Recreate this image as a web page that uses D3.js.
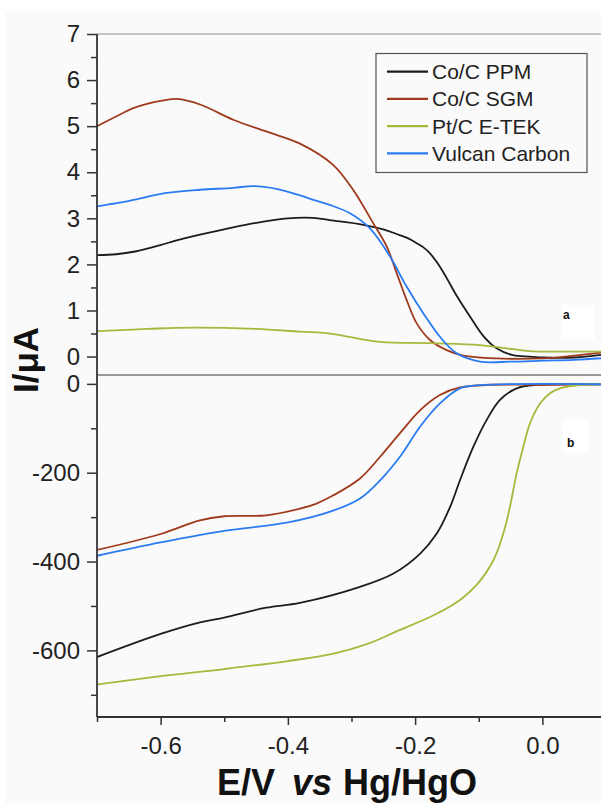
<!DOCTYPE html>
<html>
<head>
<meta charset="utf-8">
<script src="https://cdn.jsdelivr.net/npm/d3@7"></script>
<style>
  body { margin: 0; background: #fff; }
  svg { display: block; font-family: "Liberation Sans", Arial, sans-serif; }
</style>
</head>
<body>
<div id="chart"></div>
<script>
// series names + colours
const names = ['Co/C PPM', 'Co/C SGM', 'Pt/C E-TEK', 'Vulcan Carbon']
const colors = ['#1c1c1c', '#a03a1c', '#a7b83c', '#2b7cf2']

// panel a (top), I in uA
const topPPM_E = [-0.70, -0.67, -0.64, -0.60, -0.575, -0.54, -0.50, -0.45, -0.40, -0.36, -0.334, -0.2815, -0.25, -0.229, -0.21, -0.1975, -0.187, -0.1766, -0.166, -0.1557, -0.145, -0.1347, -0.1138, -0.093, -0.072, -0.046, -0.02, 0.00, 0.05, 0.10]
const topPPM_I = [2.20, 2.22, 2.28, 2.42, 2.52, 2.64, 2.76, 2.90, 3.00, 3.01, 2.96, 2.86, 2.76, 2.66, 2.56, 2.46, 2.37, 2.24, 2.05, 1.83, 1.57, 1.32, 0.87, 0.45, 0.18, 0.03, 0.00, -0.02, -0.02, 0.05]

const topSGM_E = [-0.70, -0.67, -0.643, -0.617, -0.595, -0.575, -0.538, -0.486, -0.433, -0.381, -0.329, -0.297, -0.2657, -0.2447, -0.229, -0.2134, -0.1975, -0.1766, -0.1505, -0.1243, -0.072, 0.00, 0.05, 0.10]
const topSGM_I = [5.00, 5.21, 5.39, 5.50, 5.56, 5.59, 5.47, 5.14, 4.88, 4.62, 4.16, 3.61, 2.89, 2.39, 1.81, 1.23, 0.72, 0.36, 0.14, 0.02, -0.04, -0.04, 0.02, 0.10]

const topPt_E = [-0.70, -0.62, -0.55, -0.45, -0.381, -0.334, -0.255, -0.177, -0.098, -0.046, -0.02, 0.10]
const topPt_I = [0.55, 0.60, 0.63, 0.60, 0.54, 0.50, 0.32, 0.29, 0.25, 0.16, 0.12, 0.11]

const topVC_E = [-0.70, -0.669, -0.643, -0.591, -0.538, -0.486, -0.455, -0.418, -0.381, -0.36, -0.334, -0.3024, -0.271, -0.2395, -0.2134, -0.1872, -0.161, -0.1347, -0.098, -0.05, 0.00, 0.05, 0.10]
const topVC_I = [3.26, 3.33, 3.40, 3.55, 3.62, 3.66, 3.70, 3.64, 3.50, 3.40, 3.29, 3.11, 2.78, 2.17, 1.52, 0.94, 0.43, 0.07, -0.11, -0.11, -0.09, -0.07, -0.03]

// panel b (bottom)
const botPPM_E = [-0.70, -0.60, -0.538, -0.50, -0.434, -0.381, -0.2866, -0.234, -0.192, -0.166, -0.145, -0.1295, -0.1086, -0.0875, -0.0666, -0.0404, -0.009, 0.05, 0.10]
const botPPM_I = [-615, -563, -537, -526, -504, -493, -457, -427, -382, -337, -277, -217, -142, -81, -36, -10, -2, -1, -1]

const botSGM_E = [-0.70, -0.60, -0.54, -0.50, -0.434, -0.381, -0.356, -0.33, -0.2866, -0.255, -0.2238, -0.192, -0.161, -0.1295, -0.08, 0.00, 0.10]
const botSGM_I = [-374, -338, -308, -298, -296, -281, -270, -252, -213, -164, -111, -59, -25, -8, -2, -2, -1]

const botPt_E = [-0.70, -0.60, -0.50, -0.40, -0.33, -0.276, -0.224, -0.171, -0.13, -0.103, -0.077, -0.0614, -0.051, -0.0404, -0.03, -0.0195, -0.0037, 0.012, 0.0277, 0.063, 0.10]
const botPt_I = [-677, -658, -642, -624, -608, -586, -554, -521, -487, -452, -397, -337, -277, -201, -142, -89, -44, -21, -10, -2, -1]

const botVC_E = [-0.70, -0.60, -0.50, -0.40, -0.33, -0.2866, -0.255, -0.2238, -0.192, -0.161, -0.1295, -0.10, 0.10]
const botVC_I = [-387, -357, -331, -312, -286, -258, -217, -164, -96, -44, -10, -3, -1]

const xTicks = [-0.6, -0.4, -0.2, 0.0]
const xMinor = [-0.7, -0.5, -0.3, -0.1]
const topTicks = [0, 1, 2, 3, 4, 5, 6, 7]
const topMinor = [0.5, 1.5, 2.5, 3.5, 4.5, 5.5, 6.5]
const botTicks = [0, -200, -400, -600]
const botMinor = [-100, -300, -500, -700]

function zip(es, is) {
  return es.map((e, i) => ({ e: e, i: is[i] }))
}
const topSeries = [zip(topPPM_E, topPPM_I), zip(topSGM_E, topSGM_I), zip(topPt_E, topPt_I), zip(topVC_E, topVC_I)]
const botSeries = [zip(botPPM_E, botPPM_I), zip(botSGM_E, botSGM_I), zip(botPt_E, botPt_I), zip(botVC_E, botVC_I)]

const width = 601
const height = 803
const plotLeft = 97, plotRight = 606
const plotTop = 34, plotMid = 375, plotBottom = 717

const svg = d3.select('#chart').append('svg')
  .attr('width', width)
  .attr('height', height)

svg.append('rect')
  .attr('x', 5).attr('y', 11)
  .attr('width', width).attr('height', height)
  .attr('fill', '#fafafa')

const x = d3.scaleLinear().domain([-0.7, 0.1]).range([plotLeft, plotRight])
const yTop = d3.scaleLinear().domain([-0.4, 7]).range([plotMid, plotTop])
const yBot = d3.scaleLinear().domain([-750, 20]).range([plotBottom, plotMid])

svg.append('clipPath').attr('id', 'clipTop')
  .append('rect').attr('x', plotLeft).attr('y', plotTop).attr('width', plotRight - plotLeft).attr('height', plotMid - plotTop)
svg.append('clipPath').attr('id', 'clipBot')
  .append('rect').attr('x', plotLeft).attr('y', plotMid).attr('width', plotRight - plotLeft).attr('height', plotBottom - plotMid)

// frame lines (grey)
svg.append('line')
  .attr('x1', plotLeft).attr('x2', width).attr('y1', plotTop).attr('y2', plotTop)
  .attr('stroke', '#8a8a8a').attr('stroke-width', 1.2)
svg.append('line')
  .attr('x1', plotLeft).attr('x2', width).attr('y1', plotMid).attr('y2', plotMid)
  .attr('stroke', '#777').attr('stroke-width', 1.5)

// curves
const lineTop = d3.line().x(d => x(d.e)).y(d => yTop(d.i)).curve(d3.curveCatmullRom.alpha(0.5))
const lineBot = d3.line().x(d => x(d.e)).y(d => yBot(d.i)).curve(d3.curveCatmullRom.alpha(0.5))

svg.append('g').attr('clip-path', 'url(#clipTop)')
  .selectAll('path')
  .data(topSeries)
  .enter().append('path')
  .attr('d', lineTop)
  .attr('fill', 'none')
  .attr('stroke', (d, i) => colors[i])
  .attr('stroke-width', 1.8)

svg.append('g').attr('clip-path', 'url(#clipBot)')
  .selectAll('path')
  .data(botSeries)
  .enter().append('path')
  .attr('d', lineBot)
  .attr('fill', 'none')
  .attr('stroke', (d, i) => colors[i])
  .attr('stroke-width', 1.8)

// axes
function styleAxis(g) {
  g.selectAll('path.domain').remove()
  g.selectAll('line').attr('stroke', '#333').attr('stroke-width', 1.5)
  g.selectAll('text')
    .attr('fill', '#222')
    .style('font-size', '24px')
    .style('font-family', '"Liberation Sans", Arial, sans-serif')
}

svg.append('g')
  .attr('transform', `translate(${plotLeft},0)`)
  .call(d3.axisLeft(yTop).tickValues(topTicks).tickSize(10).tickPadding(7).tickFormat(d => String(d)))
  .call(styleAxis)
svg.append('g')
  .attr('transform', `translate(${plotLeft},0)`)
  .call(d3.axisLeft(yTop).tickValues(topMinor).tickSize(6).tickFormat(''))
  .call(styleAxis)

svg.append('g')
  .attr('transform', `translate(${plotLeft},0)`)
  .call(d3.axisLeft(yBot).tickValues(botTicks).tickSize(10).tickPadding(7).tickFormat(d => String(d)))
  .call(styleAxis)
svg.append('g')
  .attr('transform', `translate(${plotLeft},0)`)
  .call(d3.axisLeft(yBot).tickValues(botMinor).tickSize(6).tickFormat(''))
  .call(styleAxis)

svg.append('g')
  .attr('transform', `translate(0,${plotBottom})`)
  .call(d3.axisBottom(x).tickValues(xTicks).tickSize(8).tickPadding(12).tickFormat(d => d.toFixed(1)))
  .call(styleAxis)
svg.append('g')
  .attr('transform', `translate(0,${plotBottom})`)
  .call(d3.axisBottom(x).tickValues(xMinor).tickSize(5).tickFormat(''))
  .call(styleAxis)

// axis lines
svg.append('line')
  .attr('x1', plotLeft).attr('x2', plotLeft).attr('y1', plotTop).attr('y2', plotBottom)
  .attr('stroke', '#333').attr('stroke-width', 1.8)
svg.append('line')
  .attr('x1', plotLeft).attr('x2', width).attr('y1', plotBottom).attr('y2', plotBottom)
  .attr('stroke', '#333').attr('stroke-width', 1.8)

// panel tags
const tags = [['a', 562, 305, 33, 34, 563, 319], ['b', 562, 420, 26, 32, 567, 447]]
tags.forEach(t => {
  svg.append('rect')
    .attr('x', t[1]).attr('y', t[2]).attr('width', t[3]).attr('height', t[4])
    .attr('fill', '#fff')
  svg.append('text')
    .attr('x', t[5]).attr('y', t[6])
    .attr('font-size', '12px').attr('font-weight', 'bold')
    .attr('fill', '#111')
    .text(t[0])
})

// legend
const legend = svg.append('g')
legend.append('rect')
  .attr('x', 376).attr('y', 53.5).attr('width', 211).attr('height', 119)
  .attr('fill', '#fafafa').attr('stroke', '#555').attr('stroke-width', 1.2)

const row = legend.selectAll('g.row')
  .data(names)
  .enter().append('g')
  .attr('class', 'row')
  .attr('transform', (d, i) => `translate(0,${71.7 + i * 27.2})`)
row.append('line')
  .attr('x1', 387).attr('x2', 428)
  .attr('stroke', (d, i) => colors[i])
  .attr('stroke-width', 2.2)
row.append('text')
  .attr('x', 432)
  .attr('y', 7.5)
  .attr('font-size', '21px')
  .attr('fill', '#222')
  .text(d => d)

// axis titles
svg.append('text')
  .attr('transform', 'translate(38,360) rotate(-90)')
  .attr('text-anchor', 'middle')
  .attr('font-size', '35px')
  .attr('font-weight', 'bold')
  .attr('fill', '#111')
  .text('I/\u03bcA')

const xt = svg.append('text')
  .attr('y', 795)
  .attr('font-size', '36px')
  .attr('font-weight', 'bold')
  .attr('fill', '#111')
xt.append('tspan').attr('x', 217).text('E/V')
xt.append('tspan').attr('x', 292).attr('font-style', 'italic').text('vs')
xt.append('tspan').attr('x', 343).text('Hg/HgO')
</script>
</body>
</html>
